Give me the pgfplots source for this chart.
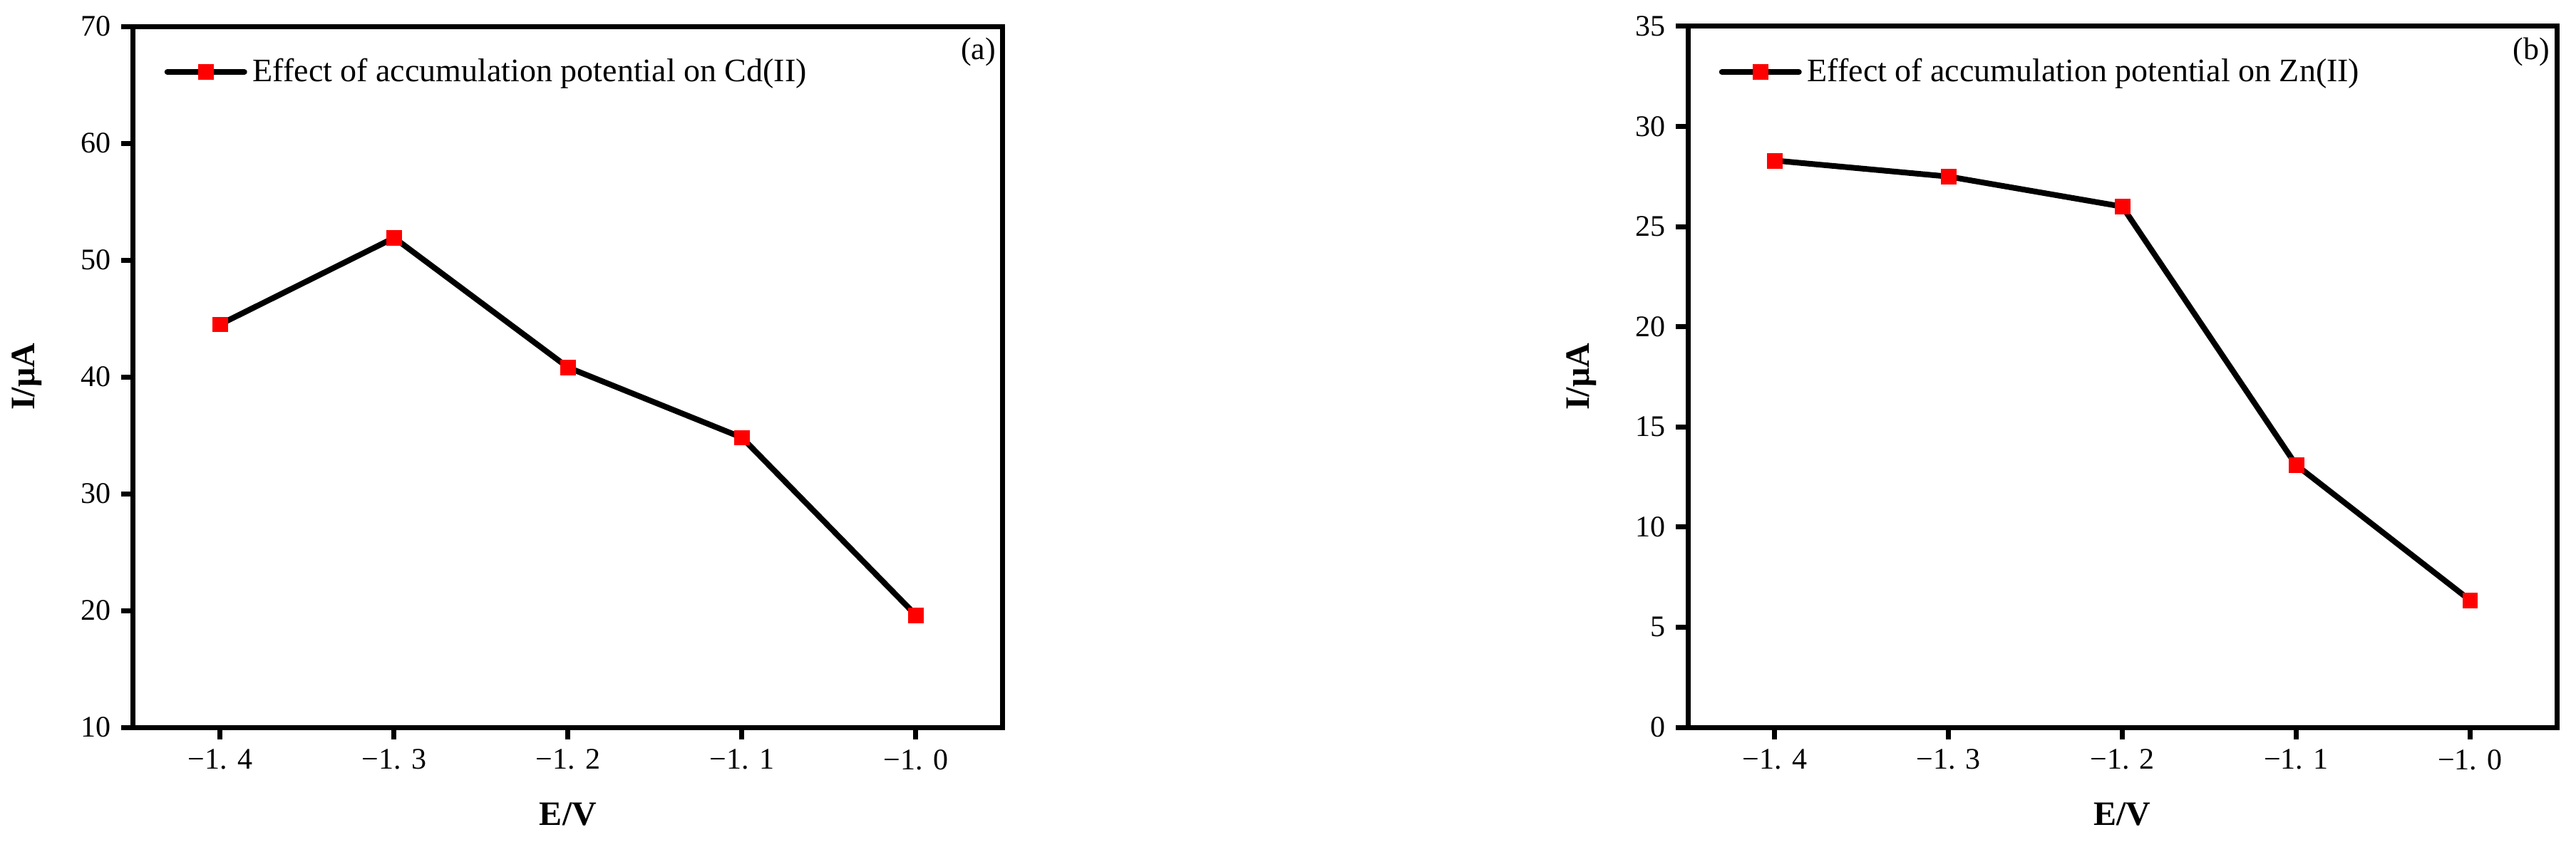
\documentclass[border=0pt]{standalone}
\usepackage{fontspec}
\setmainfont{Liberation Serif}
\usepackage{pgfplots}
\pgfplotsset{compat=1.18}

\pgfplotsset{
  myaxis/.style={
    scale only axis,
    width=305pt, height=246pt,
    xmin=-1.45, xmax=-0.95,
    xtick={-1.4,-1.3,-1.2,-1.1,-1.0},
    xticklabels={−1. 4,−1. 3,−1. 2,−1. 1,−1. 0},
    xtick pos=bottom, ytick pos=left,
    tick align=outside,
    major tick length=4.25pt,
    axis line style={line width=1.75pt},
    major tick style={line width=1.75pt, black},
    minor tick num=0,
    /pgf/number format/assume math mode=true,
    tick label style={font=\fontsize{10.5}{12}\selectfont},
    label style={font=\fontsize{12}{14}\selectfont\bfseries},
    xlabel={E/V},
    ylabel={I/μA},
    xlabel style={at={(axis description cs:0.5,-0.124)}, anchor=center},
    ylabel style={at={(axis description cs:-0.1221,0.5)}, anchor=center},
    legend style={at={(axis description cs:0.0352,0.935)}, anchor=west, draw=none, fill=none, inner sep=0pt, font=\fontsize{11.5}{13}\selectfont},
    legend image code/.code={\draw[mark repeat=2,mark phase=2,#1,line cap=round] plot coordinates {(0pt,0pt) (13.5pt,0pt) (27pt,0pt)};},
  },
  myplot/.style={black, line width=2pt, mark=square*, mark options={fill=red, draw=red, line width=0.1pt}, mark size=2.6pt},
}

\begin{document}
\begin{tikzpicture}
\useasboundingbox (0,0) rectangle (903.5pt,297pt);

\begin{axis}[myaxis, at={(46.75pt,41.75pt)}, anchor=south west,
  ymin=10, ymax=70, ytick={10,20,30,40,50,60,70}]
\addplot[myplot] coordinates {(-1.4,44.5) (-1.3,51.9) (-1.2,40.8) (-1.1,34.8) (-1.0,19.6)};
\addlegendentry{Effect of accumulation potential on Cd(II)}
\node[anchor=east, inner sep=0pt, font=\fontsize{11}{13}\selectfont] at (axis description cs:0.9926,0.9634) {(a)};
\end{axis}

\begin{axis}[myaxis, at={(592pt,41.75pt)}, anchor=south west, width=304.75pt,
  ymin=0, ymax=35, ytick={0,5,10,15,20,25,30,35}]
\addplot[myplot] coordinates {(-1.4,28.3) (-1.3,27.5) (-1.2,26.0) (-1.1,13.1) (-1.0,6.35)};
\addlegendentry{Effect of accumulation potential on Zn(II)}
\node[anchor=east, inner sep=0pt, font=\fontsize{11}{13}\selectfont] at (axis description cs:0.9926,0.9634) {(b)};
\end{axis}
\end{tikzpicture}
\end{document}
